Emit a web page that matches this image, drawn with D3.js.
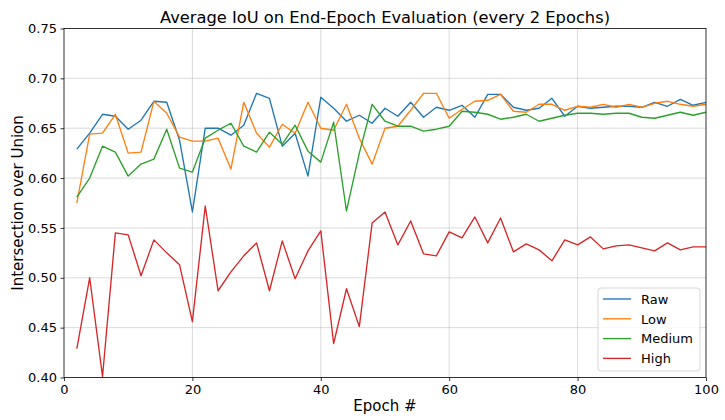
<!DOCTYPE html>
<html>
<head>
<meta charset="utf-8">
<script src="https://cdn.jsdelivr.net/npm/d3@7"></script>
<style>
  html, body { margin: 0; padding: 0; background: #fff; }
  svg { display: block; font-family: "DejaVu Sans", sans-serif; }
</style>
</head>
<body>
<svg id="chart" width="725" height="420"></svg>
<script>
const epochs = d3.range(2, 101, 2);
const seriesNames = ["Raw", "Low", "Medium", "High"];
const seriesColors = ["#1f77b4", "#ff7f0e", "#2ca02c", "#d62728"];

const raw = [0.629,0.645,0.664,0.662,0.649,0.658,0.677,0.676,0.638,0.566,
             0.650,0.650,0.643,0.653,0.685,0.680,0.632,0.645,0.602,0.681,
             0.670,0.657,0.663,0.655,0.670,0.662,0.676,0.661,0.671,0.668,
             0.673,0.661,0.684,0.684,0.671,0.668,0.670,0.680,0.662,0.672,
             0.670,0.671,0.672,0.672,0.671,0.676,0.672,0.679,0.673,0.676];
const low = [0.575,0.644,0.645,0.664,0.625,0.626,0.677,0.665,0.641,0.637,
             0.637,0.640,0.609,0.676,0.645,0.631,0.654,0.645,0.676,0.650,
             0.648,0.674,0.640,0.614,0.650,0.652,0.668,0.685,0.685,0.660,
             0.669,0.677,0.678,0.684,0.667,0.666,0.674,0.674,0.668,0.672,
             0.671,0.674,0.671,0.674,0.671,0.675,0.677,0.674,0.672,0.674];
const medium = [0.581,0.600,0.632,0.626,0.602,0.614,0.619,0.649,0.610,0.606,
                0.640,0.648,0.655,0.632,0.626,0.646,0.634,0.653,0.627,0.616,
                0.656,0.567,0.625,0.674,0.657,0.652,0.652,0.647,0.649,0.652,
                0.667,0.666,0.664,0.659,0.661,0.664,0.657,0.660,0.663,0.665,
                0.665,0.664,0.665,0.665,0.661,0.660,0.663,0.666,0.663,0.666];
const high = [0.429,0.500,0.401,0.545,0.543,0.502,0.538,0.525,0.513,0.456,
              0.572,0.487,0.506,0.522,0.535,0.487,0.537,0.499,0.527,0.547,
              0.434,0.489,0.451,0.555,0.566,0.533,0.557,0.524,0.522,0.546,
              0.540,0.561,0.535,0.560,0.526,0.534,0.528,0.517,0.538,0.533,
              0.541,0.529,0.532,0.533,0.530,0.527,0.535,0.528,0.531,0.531];

const xTicks = [0, 20, 40, 60, 80, 100];
const yTicks = [0.40, 0.45, 0.50, 0.55, 0.60, 0.65, 0.70, 0.75];

const svg = d3.select("#chart");
const margin = {left: 64, right: 19, top: 28.5, bottom: 42.5};
const W = 725, H = 420;
const x = d3.scaleLinear().domain([0, 100]).range([margin.left, W - margin.right]);
const y = d3.scaleLinear().domain([0.40, 0.75]).range([H - margin.bottom, margin.top]);

// grid
const g = svg.append("g");
g.selectAll(".gx").data(xTicks.slice(1, -1)).join("line")
  .attr("x1", d => x(d)).attr("x2", d => x(d))
  .attr("y1", y(0.40)).attr("y2", y(0.75))
  .attr("stroke", "#b0b0b0").attr("stroke-opacity", 0.6).attr("stroke-width", 0.8);
g.selectAll(".gy").data(yTicks.slice(1, -1)).join("line")
  .attr("x1", x(0)).attr("x2", x(100))
  .attr("y1", d => y(d)).attr("y2", d => y(d))
  .attr("stroke", "#b0b0b0").attr("stroke-opacity", 0.6).attr("stroke-width", 0.8);

// lines
const allSeries = [raw, low, medium, high];
const lineGen = d3.line().x((d, i) => x(epochs[i])).y(d => y(d));
svg.append("defs").append("clipPath").attr("id", "clip")
  .append("rect").attr("x", x(0)).attr("y", y(0.75)).attr("width", x(100) - x(0)).attr("height", y(0.40) - y(0.75));
const lg = svg.append("g").attr("clip-path", "url(#clip)");
allSeries.forEach((s, k) => {
  lg.append("path").datum(s).attr("d", lineGen)
    .attr("fill", "none").attr("stroke", seriesColors[k]).attr("stroke-width", 1.35)
    .attr("stroke-linejoin", "round");
});

// axes
const xAxis = d3.axisBottom(x).tickValues(xTicks).tickFormat(d3.format("d")).tickSize(3.5).tickPadding(3.5);
const yAxis = d3.axisLeft(y).tickValues(yTicks).tickFormat(d3.format(".2f")).tickSize(3.5).tickPadding(3.5);
const gx = svg.append("g").attr("transform", `translate(0,${y(0.40)})`).call(xAxis);
const gy = svg.append("g").attr("transform", `translate(${x(0)},0)`).call(yAxis);
[gx, gy].forEach(a => {
  a.selectAll("text").attr("font-size", 13).attr("fill", "#000").attr("font-family", "DejaVu Sans");
  a.selectAll("line").attr("stroke", "#000").attr("stroke-width", 0.8);
  a.select(".domain").remove();
});
// spines
svg.append("rect").attr("x", x(0)).attr("y", y(0.75))
  .attr("width", x(100) - x(0)).attr("height", y(0.40) - y(0.75))
  .attr("fill", "none").attr("stroke", "#000").attr("stroke-width", 0.8);

// title and labels
svg.append("text").attr("x", (x(0) + x(100)) / 2).attr("y", 23)
  .attr("text-anchor", "middle").attr("font-size", 16.3).text("Average IoU on End-Epoch Evaluation (every 2 Epochs)");
svg.append("text").attr("x", (x(0) + x(100)) / 2).attr("y", 411)
  .attr("text-anchor", "middle").attr("font-size", 15).text("Epoch #");
svg.append("text").attr("transform", `translate(23,${(y(0.40) + y(0.75)) / 2}) rotate(-90)`)
  .attr("text-anchor", "middle").attr("font-size", 15).text("Intersection over Union");

// legend
const legX = 598, legY = 288, legW = 102, legH = 83;
const leg = svg.append("g");
leg.append("rect").attr("x", legX).attr("y", legY).attr("width", legW).attr("height", legH)
  .attr("rx", 3).attr("fill", "#fff").attr("fill-opacity", 0.8).attr("stroke", "#cccccc").attr("stroke-width", 0.8);
seriesNames.forEach((n, k) => {
  const cy = 299 + k * 19.8;
  leg.append("line").attr("x1", 603).attr("x2", 631).attr("y1", cy).attr("y2", cy)
    .attr("stroke", seriesColors[k]).attr("stroke-width", 1.35);
  leg.append("text").attr("x", 641).attr("y", cy + 4.7).attr("font-size", 13).text(n);
});
</script>
</body>
</html>
